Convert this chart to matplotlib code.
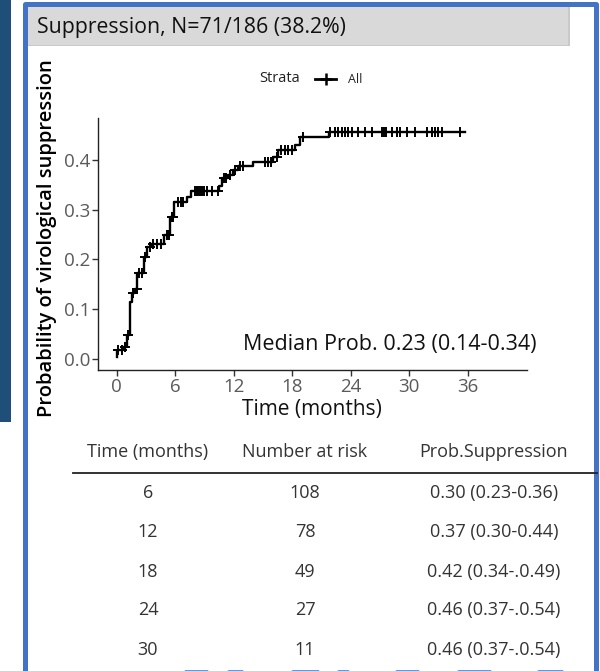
import numpy as np
import matplotlib
matplotlib.use('Agg')
import matplotlib.pyplot as plt
from matplotlib.lines import Line2D
from matplotlib.patches import Rectangle

plt.rcParams['font.family'] = ['Open Sans', 'DejaVu Sans']

W, H = 600, 671

# cumulative probability of suppression (step curve)
event_t = [0, 0.05, 0.68, 1.02, 1.36, 1.54, 1.88, 2.12, 2.8, 3.07, 3.49, 4.85, 5.47, 5.88,
           7.17, 7.62, 10.5, 10.8, 11.45, 11.9, 12.47, 14.0, 16.06, 16.57, 18.28, 18.8, 21.8]
event_p = [0.004, 0.018, 0.025, 0.048, 0.115, 0.133, 0.141, 0.172, 0.206, 0.226, 0.232, 0.249,
           0.286, 0.316, 0.325, 0.338, 0.348, 0.363, 0.370, 0.380, 0.387, 0.395, 0.407, 0.421,
           0.430, 0.447, 0.457]
end_t = 35.7
censor_t = [0.17, 0.51, 0.85, 1.2, 1.7, 2.04, 2.31, 2.56, 2.9, 3.4, 3.75, 4.1, 4.5, 5.13, 5.4,
            5.64, 5.81, 6.32, 6.56, 6.83, 8.03, 8.2, 8.37, 8.54, 8.71, 8.95, 9.29, 9.74, 10.42,
            11.0, 11.2, 11.62, 12.13, 12.65, 12.92, 15.2, 15.55, 15.79, 16.4, 16.9, 17.26, 17.6,
            17.94, 19.14, 21.9, 22.39, 22.73, 23.07, 23.42, 23.76, 24.1, 24.78, 25.47, 26.15,
            27.18, 27.41, 27.62, 28.2, 28.72, 29.06, 29.74, 30.6, 31.8, 32.3, 32.65, 32.99,
            33.33, 35.21]

title = 'Suppression, N=71/186 (38.2%)'
median_txt = 'Median Prob. 0.23 (0.14-0.34)'

tab_head = ['Time (months)', 'Number at risk', 'Prob.Suppression']
tab_time = [6, 12, 18, 24, 30]
tab_risk = [108, 78, 49, 27, 11]
tab_prob = ['0.30 (0.23-0.36)', '0.37 (0.30-0.44)', '0.42 (0.34-.0.49)',
            '0.46 (0.37-.0.54)', '0.46 (0.37-.0.54)']

BLUE = '#4472C4'
NAVY = '#1F4E79'
GREY_TXT = '#5a5a5a'


def fx(px):
    return px / W


def fy(py):
    return 1 - py / H


fig = plt.figure(figsize=(6, 6.71), dpi=100)

# decoration: navy side bar, grey header, blue frame
fig.add_artist(Rectangle((0, fy(422)), fx(11), 422 / H, transform=fig.transFigure,
                         color=NAVY, lw=0, zorder=0))
fig.add_artist(Rectangle((fx(27), fy(46)), fx(543), 39 / H, transform=fig.transFigure,
                         facecolor='#C9C9C9', lw=0, zorder=1))
fig.add_artist(Rectangle((fx(27), fy(45)), fx(541), 38 / H, transform=fig.transFigure,
                         facecolor='#D9D9D9', lw=0, zorder=1))
fig.text(fx(37), fy(27.5), title, fontsize=15.3, va='center', ha='left', color='#111111')
frame = Line2D([fx(24.5), fx(24.5), fx(595.5), fx(595.5)], [fy(671), fy(4), fy(4), fy(671)],
               transform=fig.transFigure, color=BLUE, lw=3.6, solid_joinstyle='round')
fig.add_artist(frame)
for a, b in [(185, 207), (228, 242), (292, 318), (338, 348), (396, 418), (458, 490), (538, 562)]:
    fig.add_artist(Line2D([fx(a), fx(b)], [fy(670.5), fy(670.5)], transform=fig.transFigure,
                          color=BLUE, lw=1.8, solid_capstyle='round'))

# KM-type plot
ax = fig.add_axes([fx(98), fy(370), fx(527 - 98), (370 - 118) / H])
xs = list(event_t) + [end_t]
ys = list(event_p) + [event_p[-1]]
ax.step(xs, ys, where='post', color='black', lw=1.7)
idx = np.searchsorted(event_t, censor_t, side='right') - 1
cy = np.array(event_p)[idx]
ax.plot(censor_t, cy, ls='none', marker='+', color='black', ms=7, mew=1.4)

ax.set_xlim(-1.92, 42.08)
ax.set_ylim(-0.0221, 0.4844)
ax.set_xticks([0, 6, 12, 18, 24, 30, 36])
ax.set_yticks([0.0, 0.1, 0.2, 0.3, 0.4])
ax.set_yticklabels(['0.0', '0.1', '0.2', '0.3', '0.4'])
for s in ['top', 'right']:
    ax.spines[s].set_visible(False)
for s in ['left', 'bottom']:
    ax.spines[s].set_color('#222222')
    ax.spines[s].set_linewidth(1.0)
ax.tick_params(axis='x', length=4, width=1, color='#333333', labelsize=13.5,
               labelcolor=GREY_TXT, pad=2)
ax.tick_params(axis='y', length=4, width=1, color='#333333', labelsize=13.5,
               labelcolor=GREY_TXT, pad=1.5)
ax.text(1.023, (370 - 345) / 252, median_txt, transform=ax.transAxes,
        ha='right', va='center', fontsize=15.5, color='#111111')

fig.text(fx(47), fy(238.5), 'Probability of virological suppression', rotation=90,
         ha='center', va='center', fontsize=14.5, color='#000000', fontweight='semibold')
fig.text(fx(311.5), fy(410), 'Time (months)', ha='center', va='center', fontsize=15,
         color='#111111')

# legend row
fig.text(fx(259), fy(79), 'Strata', ha='left', va='center', fontsize=10.5, color='#222222')
fig.add_artist(Line2D([fx(315), fx(336)], [fy(79), fy(79)], transform=fig.transFigure,
                      color='black', lw=2))
fig.add_artist(Line2D([fx(325.5)], [fy(79)], transform=fig.transFigure, color='black',
                      marker='+', ms=8, mew=1.8))
fig.text(fx(348), fy(79.5), 'All', ha='left', va='center', fontsize=9, color='#222222')

# table
col_x = [148, 305, 494]
for cx, h in zip(col_x, tab_head):
    fig.text(fx(cx), fy(452), h, ha='center', va='center', fontsize=13, color='#333333')
fig.add_artist(Line2D([fx(73), fx(597)], [fy(472.7), fy(472.7)], transform=fig.transFigure,
                      color='#222222', lw=1.3))
row_y = [493, 532, 572, 610, 650]
for ry, t, r, p in zip(row_y, tab_time, tab_risk, tab_prob):
    fig.text(fx(col_x[0]), fy(ry), str(t), ha='center', va='center', fontsize=13, color='#333333')
    fig.text(fx(col_x[1]), fy(ry), str(r), ha='center', va='center', fontsize=13, color='#333333')
    fig.text(fx(col_x[2]), fy(ry), p, ha='center', va='center', fontsize=13, color='#333333')

fig.savefig('out.png', dpi=100)
